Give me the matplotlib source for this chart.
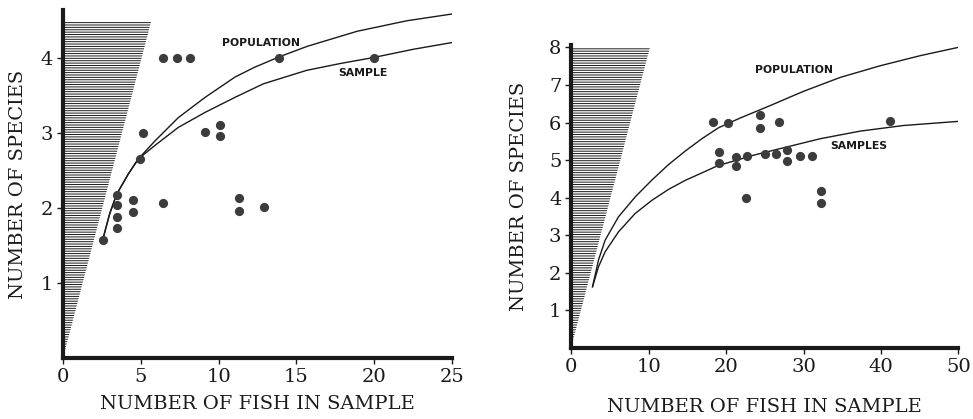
import numpy as np
import matplotlib
matplotlib.use("Agg")
from matplotlib import pyplot as plt

# ---- left panel (small samples) ----
fish_l = [2.6, 3.45, 3.45, 3.45, 3.45, 4.5, 4.5, 6.4, 5.15, 4.95, 6.4, 7.3, 8.15,
          9.1, 10.1, 10.1, 11.3, 11.3, 12.9, 13.9, 20.0]
spec_l = [1.57, 2.17, 2.04, 1.88, 1.73, 2.10, 1.94, 2.06, 2.99, 2.65, 4.0, 4.0, 4.0,
          3.01, 3.10, 2.95, 2.13, 1.96, 2.01, 4.0, 4.0]

pop_x_l = [2.55, 3.0, 3.45, 4.2, 4.84, 5.91, 7.41, 9.13, 11.05, 12.3, 13.9, 15.7,
           18.9, 22.1, 25.0]
pop_l = [1.57, 1.92, 2.18, 2.45, 2.65, 2.89, 3.2, 3.47, 3.74, 3.87, 4.01, 4.15,
         4.35, 4.49, 4.58]
samp_x_l = [2.55, 3.0, 3.45, 4.2, 4.84, 5.91, 7.41, 9.13, 11.05, 12.87, 15.66,
            17.8, 19.94, 22.5, 25.0]
samp_l = [1.57, 1.92, 2.18, 2.45, 2.65, 2.83, 3.07, 3.27, 3.47, 3.65, 3.83,
          3.92, 4.0, 4.11, 4.2]

# ---- right panel (larger samples) ----
fish_r = [18.3, 20.2, 24.4, 24.4, 26.9, 41.2, 19.1, 19.1, 21.3, 21.3, 22.7, 22.6,
          25.0, 26.4, 27.9, 27.9, 29.5, 31.1, 32.2, 32.2]
spec_r = [6.01, 6.0, 6.19, 5.86, 6.01, 6.04, 5.22, 4.91, 5.08, 4.85, 5.10, 3.98,
          5.15, 5.15, 5.26, 4.97, 5.10, 5.10, 4.17, 3.86]

pop_x_r = [2.76, 3.53, 4.39, 6.11, 8.27, 10.43, 12.57, 14.73, 16.89, 19.03, 21.83,
           25.7, 30.0, 34.75, 39.9, 45.1, 50.0]
pop_r = [1.63, 2.34, 2.87, 3.49, 4.02, 4.47, 4.88, 5.24, 5.57, 5.86, 6.12,
         6.45, 6.83, 7.2, 7.51, 7.78, 8.0]
samp_x_r = [2.76, 3.53, 4.39, 6.11, 8.27, 10.43, 12.57, 14.73, 16.89, 19.03, 20.76,
            23.55, 27.87, 32.2, 37.3, 42.9, 50.0]
samp_r = [1.63, 2.16, 2.56, 3.09, 3.58, 3.93, 4.22, 4.46, 4.66, 4.86, 4.96,
          5.13, 5.35, 5.57, 5.77, 5.92, 6.03]

# impossible region (more species than fish) edge: slope read from hatching
hatch_top_l, hatch_top_r = 4.47, 8.0
hatch_slope = 1.27

serif = "DejaVu Serif"
ink = "#1a1a1a"
dot = "#3c3c3c"
plt.rcParams["hatch.linewidth"] = 0.7

fig = plt.figure(figsize=(9.73, 4.19), dpi=100)
ax1 = fig.add_axes([0.0647, 0.1456, 0.400, 0.830])
ax2 = fig.add_axes([0.587, 0.1695, 0.398, 0.722])


def style(ax, xlim, ylim, xticks, yticks, xpad, ypad):
    ax.set_xlim(*xlim)
    ax.set_ylim(*ylim)
    ax.set_xticks(xticks)
    ax.set_yticks(yticks)
    for s in ("top", "right"):
        ax.spines[s].set_visible(False)
    for s in ("left", "bottom"):
        ax.spines[s].set_linewidth(3)
        ax.spines[s].set_color(ink)
    ax.tick_params(direction="out", length=4, width=1, colors=ink, labelsize=14, pad=3)
    for lab in ax.get_xticklabels() + ax.get_yticklabels():
        lab.set_family(serif)
    ax.set_xlabel("NUMBER OF FISH IN SAMPLE", family=serif, fontsize=14, color=ink, labelpad=xpad)
    ax.set_ylabel("NUMBER OF SPECIES", family=serif, fontsize=14, color=ink, labelpad=ypad)


# left
top = hatch_top_l
ax1.fill([0, 0, hatch_slope * top], [0, top, top], facecolor="white",
         edgecolor=ink, hatch="-------", linewidth=0, zorder=1)
ax1.plot(pop_x_l, pop_l, color=ink, lw=1.0, zorder=2)
ax1.plot(samp_x_l, samp_l, color=ink, lw=1.0, zorder=2)
ax1.scatter(fish_l, spec_l, s=44, color=dot, zorder=3, linewidths=0)
ax1.text(10.2, 4.19, "POPULATION", fontsize=7.8, fontweight="bold", color=ink, va="center")
ax1.text(17.7, 3.80, "SAMPLE", fontsize=7.8, fontweight="bold", color=ink, va="center")
style(ax1, (0, 25), (0, 4.63), [0, 5, 10, 15, 20, 25], [1, 2, 3, 4], 7, 10)

# right
top = hatch_top_r
ax2.fill([0, 0, hatch_slope * top], [0, top, top], facecolor="white",
         edgecolor=ink, hatch="-------", linewidth=0, zorder=1)
ax2.plot(pop_x_r, pop_r, color=ink, lw=1.0, zorder=2)
ax2.plot(samp_x_r, samp_r, color=ink, lw=1.0, zorder=2)
ax2.scatter(fish_r, spec_r, s=44, color=dot, zorder=3, linewidths=0)
ax2.text(23.8, 7.4, "POPULATION", fontsize=7.8, fontweight="bold", color=ink, va="center")
ax2.text(33.4, 5.37, "SAMPLES", fontsize=7.8, fontweight="bold", color=ink, va="center")
style(ax2, (0, 50), (0, 8.05), [0, 10, 20, 30, 40, 50], [1, 2, 3, 4, 5, 6, 7, 8], 16, 15)

fig.savefig("out.png", dpi=100)
